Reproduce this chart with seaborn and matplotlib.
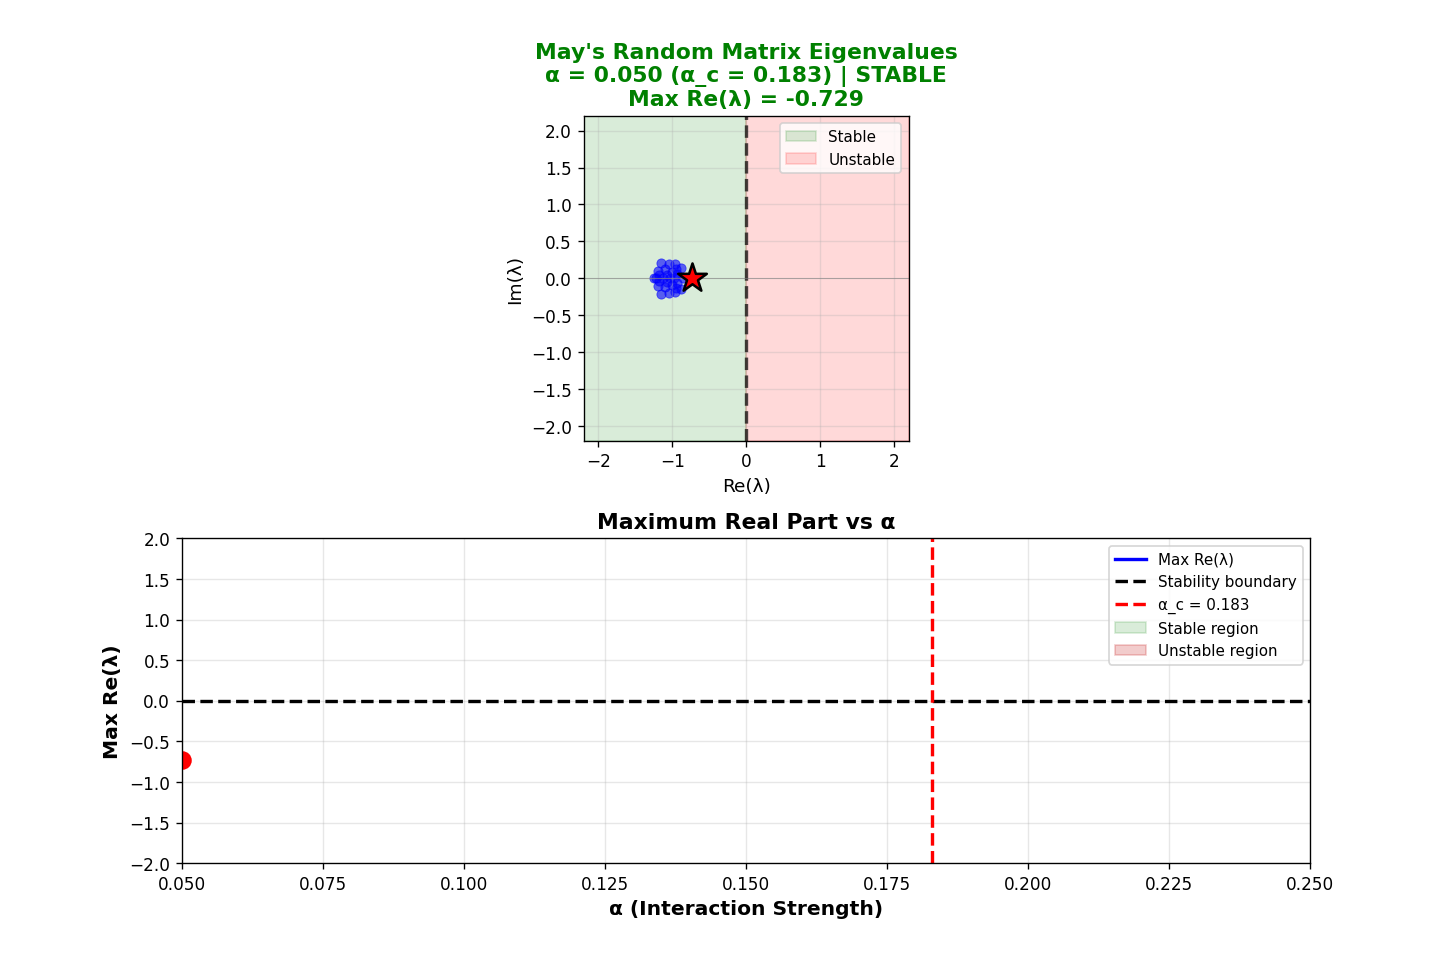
import numpy as np
import pandas as pd
import seaborn as sns
import matplotlib.pyplot as plt

alpha_now = 0.050
alpha_c = 0.183
eig_re = [-1.15, -1.15, -1.05, -1.05, -0.97, -0.97, -0.88, -0.88, -1.20, -1.20,
          -1.10, -1.10, -1.00, -1.00, -0.93, -0.93, -1.18, -1.18, -0.95, -0.95,
          -1.07, -1.07, -1.25, -1.22, -1.12, -1.03, -0.98, -0.85, -0.729]
eig_im = [0.21, -0.21, 0.20, -0.20, 0.19, -0.19, 0.14, -0.14, 0.10, -0.10,
          0.12, -0.12, 0.09, -0.09, 0.06, -0.06, 0.04, -0.04, 0.13, -0.13,
          0.05, -0.05, 0.0, 0.0, 0.0, 0.0, 0.0, 0.0, 0.0]
alpha_hist = [0.050]
maxre_hist = [-0.729]

eig = pd.DataFrame({'re': eig_re, 'im': eig_im})
hist = pd.DataFrame({'alpha': alpha_hist, 'maxre': maxre_hist})
max_re = max(eig_re)

fig, (ax1, ax2) = plt.subplots(2, 1, figsize=(12, 8), dpi=121.33,
                               gridspec_kw={'hspace': 0.3})

# eigenvalue plane
lim = 2.2
ax1.axvspan(-lim, 0, color='green', alpha=0.15, label='Stable')
ax1.axvspan(0, lim, color='red', alpha=0.15, label='Unstable')
sns.scatterplot(data=eig, x='re', y='im', ax=ax1, color='blue', alpha=0.6, s=30,
                edgecolor='blue', linewidth=0.5)
ax1.scatter([max_re], [eig_im[eig_re.index(max_re)]], marker='*', s=320,
            color='red', edgecolor='black', linewidth=1.5, zorder=5)
ax1.axvline(0, color='black', linestyle='--', linewidth=2, alpha=0.7)
ax1.axhline(0, color='gray', linewidth=0.5, alpha=0.7)
ax1.set_xlim(-lim, lim)
ax1.set_ylim(-lim, lim)
ax1.set_aspect('equal')
ax1.set_xlabel('Re(λ)', fontsize=11)
ax1.set_ylabel('Im(λ)', fontsize=11)
ax1.grid(True, alpha=0.3)
ax1.legend(loc='upper right', fontsize=9)
status = 'STABLE' if max_re < 0 else 'UNSTABLE'
ax1.set_title(f"May's Random Matrix Eigenvalues\nα = {alpha_now:.3f} (α_c = {alpha_c:.3f}) | {status}\n"
              f"Max Re(λ) = {max_re:.3f}", fontsize=13, fontweight='bold', color='green')

# max real part vs alpha
sns.lineplot(data=hist, x='alpha', y='maxre', ax=ax2, color='blue', linewidth=2,
             label='Max Re(λ)')
ax2.axhline(0, color='black', linestyle='--', linewidth=2, label='Stability boundary')
ax2.axvline(alpha_c, color='red', linestyle='--', linewidth=2, label=f'α_c = {alpha_c:.3f}')
ax2.fill_between(hist['alpha'], -2, 0, color='green', alpha=0.15, label='Stable region')
ax2.fill_between(hist['alpha'], 0, 2, color='#c00000', alpha=0.2, label='Unstable region')
ax2.plot(alpha_hist[-1], maxre_hist[-1], 'o', color='red', markersize=10)
ax2.set_xlim(0.05, 0.25)
ax2.set_ylim(-2, 2)
ax2.set_xlabel('α (Interaction Strength)', fontsize=12, fontweight='bold')
ax2.set_ylabel('Max Re(λ)', fontsize=12, fontweight='bold')
ax2.set_title('Maximum Real Part vs α', fontsize=13, fontweight='bold')
ax2.grid(True, alpha=0.3)
ax2.legend(loc='upper right', fontsize=9)

fig.savefig('out.png', dpi=121.33)
